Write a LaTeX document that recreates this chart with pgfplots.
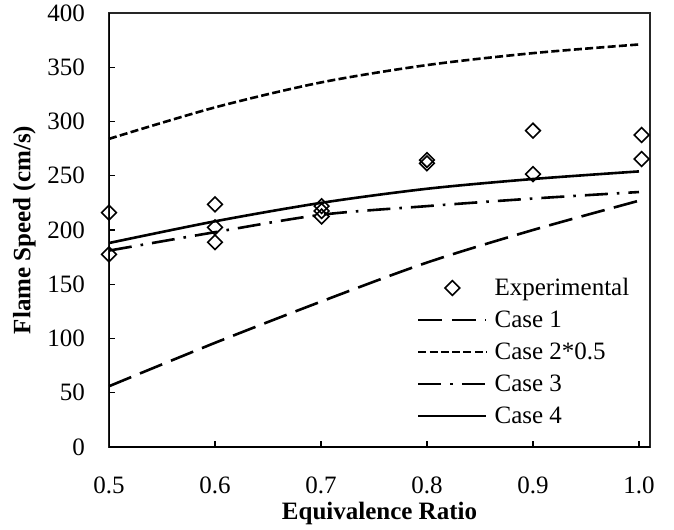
\documentclass[border=0pt]{standalone}
\usepackage{fontspec}
\setmainfont{Liberation Serif}
\usepackage{pgfplots}
\pgfplotsset{compat=1.18}
\pgfplotsset{diamlegend/.style={legend image code/.code={\draw[##1, only marks] plot coordinates {(34bp,0bp)};}}}
\begin{document}
\fontsize{25bp}{30bp}\selectfont
\begin{tikzpicture}
\begin{axis}[
  scale only axis, width=541bp, height=434bp,
  xmin=0.5, xmax=1.0104, ymin=0, ymax=400,
  xtick={0.5,0.6,0.7,0.8,0.9,1.0},
  xticklabels={0.5,0.6,0.7,0.8,0.9,1.0},
  ytick={0,50,100,150,200,250,300,350,400},
  tick align=inside, xtick pos=bottom, ytick pos=left,
  major tick length=6bp,
  every tick/.style={black, line width=1.2bp},
  axis line style={line width=1.2bp, black!85},
  /pgf/number format/assume math mode=true,
  tick label style={font=\fontsize{25bp}{30bp}\selectfont},
  yticklabel style={inner sep=0pt, anchor=east, xshift=-24bp},
  xticklabel style={inner sep=0pt, anchor=north, yshift=-30bp},
  xlabel={Equivalence Ratio},
  ylabel={Flame Speed (cm/s)},
  xlabel style={at={(axis description cs:0.5,-0.1267)}, anchor=north, inner sep=0pt, font=\fontsize{25bp}{30bp}\selectfont\bfseries},
  ylabel style={at={(axis description cs:-0.1349,0.5)}, anchor=south, inner sep=0pt, font=\fontsize{25bp}{30bp}\selectfont\bfseries},
  legend style={at={(axis description cs:0.5693,0.4032)}, anchor=north west, draw=none, fill=none,
    inner sep=0pt, outer sep=0pt, row sep=0pt, column sep=7bp,
    nodes={inner sep=0pt, text height=23bp, text depth=9bp},
    font=\fontsize{25bp}{30bp}\selectfont},
  legend cell align=left,
  legend image code/.code={\draw[#1] (0bp,0bp) -- (68bp,0bp);},
]
\addplot[only marks, mark=square, mark size=5.2bp, mark options={rotate=45, line width=1.6bp, solid, black}, diamlegend]
  coordinates {(0.5,216) (0.5,177.6) (0.6,223.7) (0.6,202.5) (0.6,188.7)
   (0.7006,222) (0.7006,217.5) (0.7006,212.5) (0.8,264.5) (0.8,261.5)
   (0.9,291.5) (0.9,251.5) (1.0025,287.6) (1.0025,265.4)};
\addlegendentry{Experimental}
\addplot[black, line width=2.6bp, smooth, dash pattern=on 24bp off 9.5bp]
  coordinates {(0.5,56) (0.6,96) (0.7,134) (0.8,170) (0.9,200) (1.0,227)};
\addlegendentry{Case 1}
\addplot[black, line width=2.6bp, smooth, dash pattern=on 8bp off 3.3bp]
  coordinates {(0.5,284) (0.6,313) (0.7,336) (0.8,352) (0.9,363) (1.0,371)};
\addlegendentry{Case 2*0.5}
\addplot[black, line width=2.6bp, smooth, dash pattern=on 23bp off 9bp on 2.6bp off 9bp]
  coordinates {(0.5,181) (0.6,198) (0.7,214) (0.8,222) (0.9,229) (1.0,235)};
\addlegendentry{Case 3}
\addplot[black, line width=2.6bp, smooth]
  coordinates {(0.5,188) (0.6,208) (0.7,225) (0.8,238) (0.9,247) (1.0,254)};
\addlegendentry{Case 4}
\draw[line width=2.2bp, black] (axis description cs:0,1) -- (axis description cs:0,0) -- (axis description cs:1,0);
\end{axis}
\pgfresetboundingbox
\path[use as bounding box] ([shift={(-109bp,-83bp)}]current axis.south west) rectangle ([shift={(24bp,13bp)}]current axis.north east);
\end{tikzpicture}
\end{document}
